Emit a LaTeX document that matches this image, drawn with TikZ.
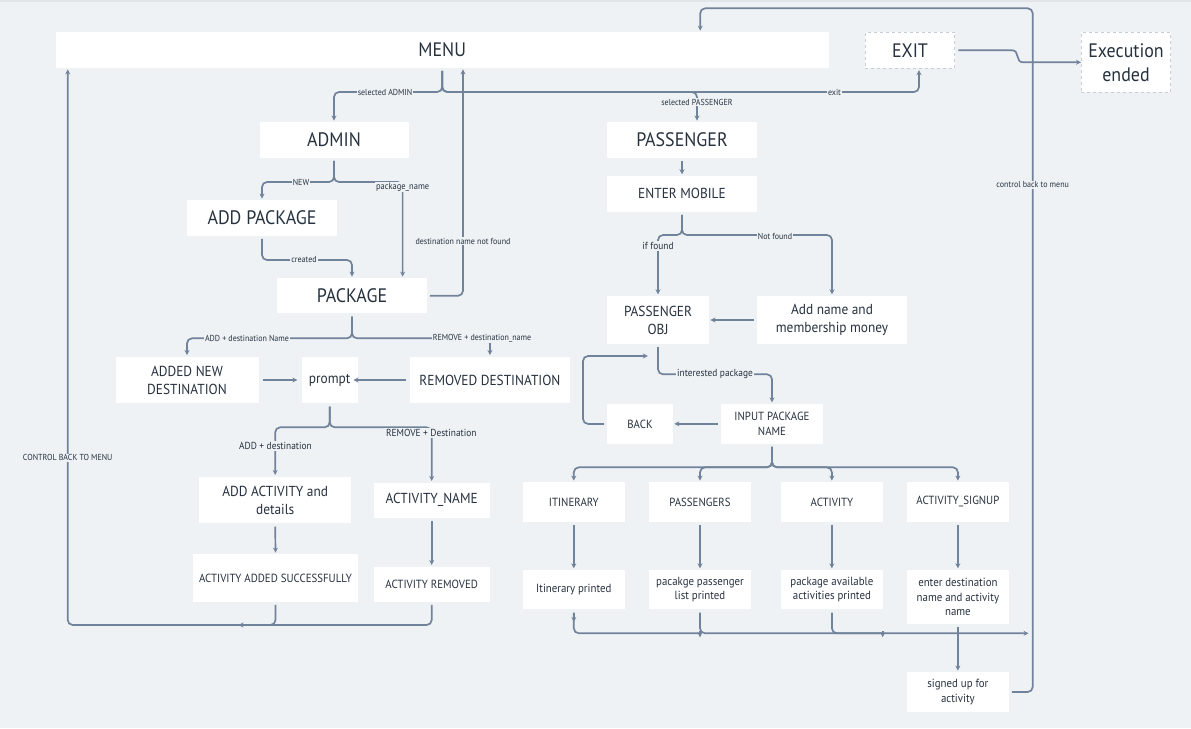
\documentclass[tikz,border=0pt]{standalone}
\usepackage{fontspec}
\setmainfont{PT Sans}[FakeStretch=0.92]
\usetikzlibrary{arrows.meta}
\definecolor{bg}{HTML}{EEF2F5}
\definecolor{ln}{HTML}{71839A}
\definecolor{tx}{HTML}{27323F}
\definecolor{dsh}{HTML}{C5CDD6}
\definecolor{topband}{HTML}{E1E5E9}
\begin{document}
\begin{tikzpicture}[x=1pt,y=-1pt,
 box/.style={fill=white, inner sep=0pt, align=center, text=tx, font=\fontsize{14.5}{18}\selectfont},
 big/.style={font=\fontsize{19.5}{24}\selectfont},
 sml/.style={font=\fontsize{11.8}{14.5}\selectfont},
 dbox/.style={draw=dsh, dashed, line width=0.8pt},
 conn/.style={draw=ln, line width=1.7pt, rounded corners=5pt, shorten <=3pt},
 arr/.style={conn, -{Stealth[length=5pt,width=5pt]}, shorten >=1.5pt},
 tipm/.style={draw=ln, line width=1.7pt, -{Stealth[length=5pt,width=5pt]}},
 lbl/.style={fill=bg, inner sep=1pt, text=tx, font=\fontsize{8.7}{10}\selectfont},
 lblb/.style={lbl, font=\fontsize{10.2}{12}\selectfont},
]
\useasboundingbox (0,0) rectangle (1191,728);
\fill[bg] (0,0) rectangle (1191,728);
\fill[topband] (0,0) rectangle (1191,2);

% nodes
\node[box,big,minimum width=773pt,minimum height=35.4pt] (menu) at (442.2,50) {MENU};
\node[box,big,dbox,minimum width=89.7pt,minimum height=36pt] (exit) at (910,50.3) {EXIT};
\node[box,big,dbox,minimum width=89.3pt,minimum height=60pt] (exe) at (1126,62.3) {Execution\\ended};
\node[box,big,minimum width=149pt,minimum height=35.5pt] (admin) at (334,140) {ADMIN};
\node[box,big,minimum width=149.5pt,minimum height=35.5pt] (passenger) at (682,140) {PASSENGER};
\node[box,big,minimum width=149.3pt,minimum height=35.4pt] (addpkg) at (262,218) {ADD PACKAGE};
\node[box,minimum width=149.5pt,minimum height=35.7pt] (entermob) at (682,193.8) {ENTER MOBILE};
\node[box,big,minimum width=149.2pt,minimum height=35pt] (package) at (352,295.8) {PACKAGE};
\node[box,minimum width=101.4pt,minimum height=48pt] (pobj) at (658,320) {PASSENGER\\OBJ};
\node[box,minimum width=149.4pt,minimum height=48pt] (addname) at (832,320) {Add name and\\membership money};
\node[box,minimum width=143pt,minimum height=46.6pt] (addednew) at (187,380) {ADDED NEW\\DESTINATION};
\node[box,minimum width=56.2pt,minimum height=46.6pt] (prompt) at (329.7,380) {prompt};
\node[box,minimum width=160.7pt,minimum height=46.6pt] (removed) at (489.9,380) {REMOVED DESTINATION};
\node[box,sml,minimum width=65.4pt,minimum height=39.7pt] (back) at (640,423.9) {BACK};
\node[box,sml,minimum width=101.4pt,minimum height=39.7pt] (input) at (772,423.9) {INPUT PACKAGE\\NAME};
\node[box,minimum width=152.3pt,minimum height=46.6pt] (addact) at (275.2,500) {ADD ACTIVITY and\\details};
\node[box,minimum width=116.4pt,minimum height=35pt] (actname) at (431.7,500.2) {ACTIVITY\_NAME};
\node[box,sml,minimum width=164.5pt,minimum height=47.4pt] (actadded) at (275.5,578) {ACTIVITY ADDED SUCCESSFULLY};
\node[box,sml,minimum width=116.4pt,minimum height=35pt] (actremoved) at (431.7,584.2) {ACTIVITY REMOVED};
\node[box,sml,minimum width=101.8pt,minimum height=39.4pt] (itin) at (573.8,502) {ITINERARY};
\node[box,sml,minimum width=101.7pt,minimum height=39.4pt] (pass2) at (700,502) {PASSENGERS};
\node[box,sml,minimum width=101.3pt,minimum height=39.4pt] (activity) at (831.9,502) {ACTIVITY};
\node[box,sml,minimum width=101.7pt,minimum height=39.4pt] (signup) at (957.9,502) {ACTIVITY\_SIGNUP};
\node[box,sml,minimum width=101.8pt,minimum height=39.3pt] (itinp) at (573.8,589.7) {Itinerary printed};
\node[box,sml,minimum width=101.7pt,minimum height=39.3pt] (passp) at (700,589.7) {pacakge passenger\\list printed};
\node[box,sml,minimum width=101.3pt,minimum height=39.3pt] (actp) at (831.9,589.7) {package available\\activities printed};
\node[box,sml,minimum width=101.7pt,minimum height=54pt] (enterdest) at (957.9,597) {enter destination\\name and activity\\name};
\node[box,sml,minimum width=101.7pt,minimum height=39.4pt] (signed) at (957.9,692) {signed up for\\activity};

% free ends
\coordinate (backend) at (649.3,356);
\coordinate (m1) at (700,633.3);
\coordinate (m2) at (882.7,633.3);
\coordinate (m3) at (1030,633.3);
\coordinate (m4) at (237,625);

% MENU branches
\draw[arr] (menu.south) -- (442.2,92) -| (admin.north);
\draw[arr] (menu.south) -- (442.2,92) -| ([xshift=9pt]exit.south);
\draw[arr] (menu.south) -- (442.2,92) -| ([xshift=15pt]passenger.north);
% admin
\draw[arr] (admin.south) -- (334,182) -| (addpkg.north);
\draw[arr] (admin.south) -- (334,182) -| ([xshift=50.6pt]package.north);
\draw[arr] (addpkg.south) -- (262,260) -| (package.north);
\draw[arr] (package.east) -| ([xshift=20.8pt]menu.south);
% exit
\draw[conn,-{Stealth[length=5pt,width=5pt]},rounded corners=0pt] (exit.east) -- (1012,50.3) .. controls (1020,50.3) and (1015,62.3) .. (1023,62.3) -- (exe.west);
% control back to menu
\draw[arr] (signed.east) -- (1032.7,692) -- (1032.7,8.3) -| ([xshift=258pt]menu.north);
% passenger
\draw[arr] (passenger.south) -- (entermob.north);
\draw[arr] (entermob.south) -- (682,235) -| (pobj.north);
\draw[arr] (entermob.south) -- (682,235) -| (addname.north);
\draw[arr] (addname.west) -- (pobj.east);
\draw[arr] (pobj.south) -- (658,374.3) -| (input.north);
\draw[arr] (input.west) -- (back.east);
\draw[arr] (back.west) -- (583,423.9) |- (backend);
\draw[arr] (input.south) -- (772,467.3) -| (itin.north);
\draw[arr] (input.south) -- (772,467.3) -| (pass2.north);
\draw[arr] (input.south) -- (772,467.3) -| (activity.north);
\draw[arr] (input.south) -- (772,467.3) -| (signup.north);
\draw[arr] (itin.south) -- (itinp.north);
\draw[arr] (pass2.south) -- (passp.north);
\draw[arr] (activity.south) -- (actp.north);
\draw[arr] (signup.south) -- (enterdest.north);
\draw[arr] (enterdest.south) -- (signed.north);
% bottom merges
\draw[arr] (itinp.south) -- ++(0,14);
\draw[conn] (itinp.south) |- (m1);
\draw[tipm] ([yshift=2pt]m1) -- ([yshift=-4pt]m1);
\draw[conn] (passp.south) |- (m2);
\draw[tipm] ([yshift=2pt]m2) -- ([yshift=-4pt]m2);
\draw[arr] (actp.south) |- (m3);
% left side
\draw[arr] (package.south) -- (352,338.3) -| (addednew.north);
\draw[arr] (package.south) -- (352,338.3) -| (removed.north);
\draw[arr,shorten <=4pt,shorten >=4pt] (addednew.east) -- (prompt.west);
\draw[arr] (removed.west) -- ([xshift=-6pt]prompt.east);
\draw[arr] (prompt.south) -- (329.7,427.3) -| (addact.north);
\draw[arr] (prompt.south) -- (329.7,427.3) -| (actname.north);
\draw[arr] (addact.south) -- (actadded.north);
\draw[arr] (actname.south) -- (actremoved.north);
\draw[arr] (actadded.south) -- (275.5,625) -| ([xshift=-374.5pt]menu.south);
\draw[arr] (actremoved.south) |- (m4);

% labels
\node[lbl] at (385,92) {selected ADMIN};
\node[lbl] at (834.5,92) {exit};
\node[lbl] at (697,102) {selected PASSENGER};
\node[lbl] at (301,182) {NEW};
\node[lbl,font=\fontsize{9.2}{11}\selectfont] at (402.6,187) {package\_name};
\node[lbl] at (304,260) {created};
\node[lbl] at (463,241) {destination name not found};
\node[lbl] at (1032.7,185) {control back to menu};
\node[lblb] at (658,246) {if found};
\node[lbl] at (775,236) {Not found};
\node[lblb] at (715,374.3) {interested package};
\node[lbl] at (247,338.3) {ADD + destination Name};
\node[lbl] at (482,338.3) {REMOVE + destination\_name};
\node[lblb] at (275.5,446) {ADD + destination};
\node[lblb] at (431.3,433) {REMOVE + Destination};
\node[lbl] at (67.7,457.7) {CONTROL BACK TO MENU};
\end{tikzpicture}
\end{document}
